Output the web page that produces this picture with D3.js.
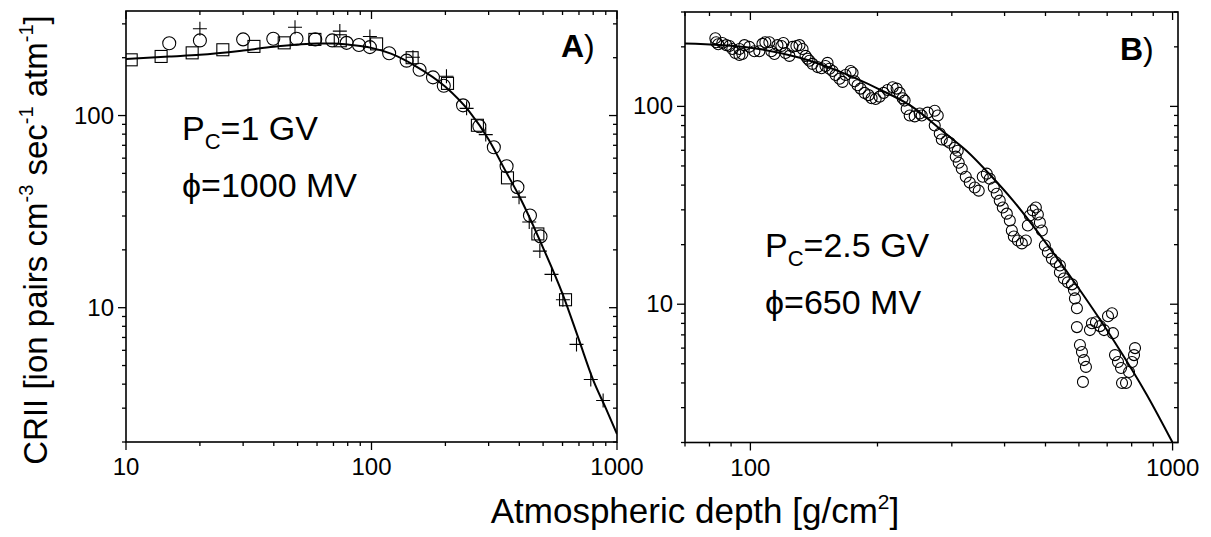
<!DOCTYPE html>
<html>
<head>
<meta charset="utf-8">
<script src="https://cdn.jsdelivr.net/npm/d3@7"></script>
<style>
  body { margin: 0; background: #fff; }
  text { font-family: Arial, "Liberation Sans", sans-serif; fill: #000; }
</style>
</head>
<body>
<svg id="chart" width="1211" height="537"></svg>
<script>
// ---- panel A : Pc = 1 GV, phi = 1000 MV ----
const sqAX = [10.5, 13.9, 18.6, 24.8, 33.2, 44.1, 58.8, 74.6, 104.9, 146.4, 204, 270, 358, 476, 617];
const sqAY = [195, 203, 212, 220, 229, 239, 249, 245, 236, 200, 147, 89, 47.4, 24.2, 11.0];

const circAX = [15.0, 20.0, 30.0, 39.8, 49.5, 59.0, 69.2, 79.2, 88.9, 98.5, 118, 139, 157, 178, 197, 236, 275, 315, 355, 393, 442, 488];
const circAY = [238, 246, 249, 251, 251, 249, 246, 239, 233, 227, 211, 193, 173, 158, 143, 113, 88, 68.4, 54.5, 42.4, 30.2, 23.5];

const plusAX = [20, 48.8, 74.3, 98.5, 147.5, 202, 244, 292, 399, 439, 485, 541, 602, 684, 782, 878];
const plusAY = [283, 288, 275, 258, 201, 160, 109, 79.6, 37.6, 27.9, 19.7, 14.9, 11.0, 6.44, 4.23, 3.29];

const fitAX = [10, 15, 20, 30, 40, 50, 60, 70, 80, 100, 120, 150, 200, 250, 300, 350, 400, 500, 600, 700, 800, 900, 1000];
const fitAY = [197, 203, 207, 218, 228, 234, 237, 237, 234, 225, 210, 182, 141, 105, 75, 52, 38, 20.5, 11.8, 6.8, 4.2, 3.0, 2.2];

// ---- panel B : Pc = 2.5 GV, phi = 650 MV ----
const circBX = [82.6, 83.0, 83.9, 85.8, 87.7, 89.2, 90.6, 92.1, 94.2, 95.7, 94.2, 96.8, 99.4, 102.2, 105.0,
  106.8, 108.5, 110.9, 112.1, 114.0, 115.9, 118.4, 119.7, 121.1, 123.7, 125.8, 128.5, 130.7, 132.9, 135.1,
  136.6, 138.0, 140.3, 144.2, 147.4, 150.6, 152.3, 153.9, 156.5, 159.1, 162.6, 165.3, 168.0, 172.7, 174.6,
  176.5, 179.4, 182.4, 186.4, 190.5, 193.7, 198.0, 202.3, 206.8, 211.3, 217.3, 222.0, 225.7, 229.4, 231.9,
  234.5, 238.4, 245.0, 251.8, 254.6, 263.0, 273.3, 277.8, 273.3, 280.9, 284.0, 291.7, 296.6, 304.8, 309.8,
  306.5, 311.5, 316.7, 323.7, 330.8, 339.9, 347.4, 355.1, 363.0, 369.0, 377.1, 383.3, 389.6, 396.1, 404.9,
  411.6, 416.1, 420.7, 430.0, 439.5, 449.2, 454.1, 459.1, 466.7, 474.4, 479.6, 484.9, 490.2, 498.3, 506.5,
  517.7, 529.1, 540.9, 540.9, 552.8, 565.1, 577.6, 583.9, 587.1, 593.5, 593.5, 603.3, 610.0, 616.6, 623.4,
  613.3, 637.2, 644.2, 658.4, 673.0, 687.9, 703.1, 718.6, 722.5, 730.5, 742.5, 754.8, 759.0, 775.7, 788.6,
  801.6, 810.4, 814.8];
const circBY = [221, 211, 206, 209, 204, 202, 195, 186, 182, 184, 195, 204, 200, 190, 190,
  207, 211, 211, 190, 184, 204, 202, 209, 186, 180, 200, 202, 204, 195, 180,
  174, 170, 164, 158, 156, 160, 166, 155, 151, 144, 138, 133, 144, 151, 148,
  134, 128, 123, 117, 114, 110, 109, 112, 117, 121, 125, 123, 117, 110, 107,
  97, 90, 89, 92, 90, 93, 95, 90, 80, 73, 68, 67, 65.5, 61.8, 59.7,
  55.7, 51.9, 48.4, 44.1, 41.2, 38.9, 37.5, 44.1, 45.7, 43.1, 38.9, 36.2, 33.4, 30.8, 28.7,
  26.5, 23.6, 22.0, 21.0, 20.3, 21.0, 25.0, 28.1, 29.8, 30.8, 28.4, 25.9, 23.6, 19.8, 18.3,
  17.0, 16.3, 15.7, 14.5, 13.5, 12.9, 12.6, 11.8, 10.7, 9.55, 7.66, 6.22, 5.73, 5.22, 4.82,
  4.05, 7.40, 8.02, 8.11, 7.75, 7.40, 8.70, 9.01, 7.14, 5.53, 5.10, 4.76, 4.00, 4.00, 4.54,
  5.10, 5.53, 6.00];

const fitBX = [70, 100, 131, 160, 202, 241, 291, 325, 370, 419, 503, 603, 724, 868, 1000];
const fitBY = [208, 198, 176, 152, 122, 100, 72.4, 59.7, 45, 33.4, 20.2, 11.8, 6.6, 3.5, 2.0];

// tick labels (decades only)
const xLabelsA = [10, 100, 1000];
const yLabelsA = [10, 100];
const xLabelsB = [100, 1000];
const yLabelsB = [10, 100];

const zip = (a, b) => a.map((v, i) => [v, b[i]]);

const svg = d3.select('#chart');

function drawPanel(p) {
    const x = d3.scaleLog().domain(p.xDomain).range([p.left, p.right]);
    const y = d3.scaleLog().domain(p.yDomain).range([p.bottom, p.top]);
    const g = svg.append('g');

    const clipId = 'clip-' + p.name;
    svg.append('clipPath').attr('id', clipId)
        .append('rect')
        .attr('x', p.left).attr('y', p.top)
        .attr('width', p.right - p.left).attr('height', p.bottom - p.top);

    const isMajor = v => Math.abs(Math.log10(v) - Math.round(Math.log10(v))) < 1e-6;

    // ticks: bottom/left outward, top/right inward (all pointing down / left)
    x.ticks().forEach(v => {
        const L = isMajor(v) ? 8 : 4;
        const px = x(v);
        g.append('line').attr('x1', px).attr('x2', px)
            .attr('y1', p.bottom).attr('y2', p.bottom + L)
            .attr('stroke', '#000').attr('stroke-width', 1.3);
        g.append('line').attr('x1', px).attr('x2', px)
            .attr('y1', p.top).attr('y2', p.top + L)
            .attr('stroke', '#000').attr('stroke-width', 1.3);
    });
    y.ticks().forEach(v => {
        const L = isMajor(v) ? 8 : 4;
        const py = y(v);
        g.append('line').attr('y1', py).attr('y2', py)
            .attr('x1', p.left).attr('x2', p.left - L)
            .attr('stroke', '#000').attr('stroke-width', 1.3);
        g.append('line').attr('y1', py).attr('y2', py)
            .attr('x1', p.right).attr('x2', p.right - L)
            .attr('stroke', '#000').attr('stroke-width', 1.3);
    });

    // frame
    g.append('rect')
        .attr('x', p.left).attr('y', p.top)
        .attr('width', p.right - p.left).attr('height', p.bottom - p.top)
        .attr('fill', 'none').attr('stroke', '#000').attr('stroke-width', 1.6);

    // tick labels
    g.selectAll('.xl').data(p.xLabels).enter().append('text')
        .attr('x', d => x(d)).attr('y', p.bottom + 33)
        .attr('text-anchor', 'middle')
        .style('font-size', '24px')
        .text(d => d);
    g.selectAll('.yl').data(p.yLabels).enter().append('text')
        .attr('x', p.left - 12).attr('y', d => y(d) + 8)
        .attr('text-anchor', 'end')
        .style('font-size', '24px')
        .text(d => d);

    const plot = g.append('g').attr('clip-path', `url(#${clipId})`);

    // fit curve
    const line = d3.line().x(d => x(d[0])).y(d => y(d[1])).curve(d3.curveMonotoneX);
    plot.append('path').datum(p.fit)
        .attr('d', line)
        .attr('fill', 'none').attr('stroke', '#000').attr('stroke-width', 2);

    // markers
    (p.squares || []).forEach(d => {
        plot.append('rect')
            .attr('x', x(d[0]) - 6).attr('y', y(d[1]) - 6)
            .attr('width', 12).attr('height', 12)
            .attr('fill', 'none').attr('stroke', '#000').attr('stroke-width', 1.1);
    });
    (p.circles || []).forEach(d => {
        plot.append('circle')
            .attr('cx', x(d[0])).attr('cy', y(d[1])).attr('r', p.r)
            .attr('fill', 'none').attr('stroke', '#000').attr('stroke-width', 1.1);
    });
    (p.pluses || []).forEach(d => {
        plot.append('path')
            .attr('transform', `translate(${x(d[0])},${y(d[1])})`)
            .attr('d', 'M-7,0H7M0,-7V7')
            .attr('fill', 'none').attr('stroke', '#000').attr('stroke-width', 1.1);
    });

    // panel letter
    const lt = g.append('text').attr('x', p.letterX).attr('y', p.letterY).style('font-size', '32px');
    lt.append('tspan').style('font-weight', 'bold').text(p.name);
    lt.append('tspan').text(')');

    // annotation
    const a1 = g.append('text').attr('x', p.annX).attr('y', p.annY).style('font-size', '34px');
    a1.append('tspan').text('P');
    a1.append('tspan').attr('dy', 9).style('font-size', '22px').text('C');
    a1.append('tspan').attr('dy', -9).text(p.pc);
    g.append('text').attr('x', p.annX).attr('y', p.annY + 57).style('font-size', '34px')
        .text('\u03D5=' + p.phi);
}

drawPanel({
    name: 'A', left: 126, right: 617, top: 11, bottom: 442,
    xDomain: [10, 1000], yDomain: [2, 350],
    xLabels: xLabelsA, yLabels: yLabelsA,
    fit: zip(fitAX, fitAY),
    squares: zip(sqAX, sqAY), circles: zip(circAX, circAY), pluses: zip(plusAX, plusAY),
    r: 6.5,
    letterX: 561, letterY: 57,
    annX: 182, annY: 140, pc: '=1 GV', phi: '1000 MV'
});

drawPanel({
    name: 'B', left: 685, right: 1178, top: 12, bottom: 442.5,
    xDomain: [70, 1030], yDomain: [2, 300],
    xLabels: xLabelsB, yLabels: yLabelsB,
    fit: zip(fitBX, fitBY),
    circles: zip(circBX, circBY),
    r: 5.5,
    letterX: 1120, letterY: 60,
    annX: 765, annY: 257, pc: '=2.5 GV', phi: '650 MV'
});

// axis titles
const xt = svg.append('text').attr('x', 695).attr('y', 523)
    .attr('text-anchor', 'middle').style('font-size', '35px');
xt.append('tspan').text('Atmospheric depth [g/cm');
xt.append('tspan').attr('dy', -14).style('font-size', '21px').text('2');
xt.append('tspan').attr('dy', 14).text(']');

const yt = svg.append('text')
    .attr('transform', 'translate(47,240) rotate(-90)')
    .attr('text-anchor', 'middle').style('font-size', '33px');
yt.append('tspan').text('CRII [ion pairs cm');
yt.append('tspan').attr('dy', -14).style('font-size', '20px').text('-3');
yt.append('tspan').attr('dy', 14).text(' sec');
yt.append('tspan').attr('dy', -14).style('font-size', '20px').text('-1');
yt.append('tspan').attr('dy', 14).text(' atm');
yt.append('tspan').attr('dy', -14).style('font-size', '20px').text('-1');
yt.append('tspan').attr('dy', 14).text(']');
</script>
</body>
</html>
